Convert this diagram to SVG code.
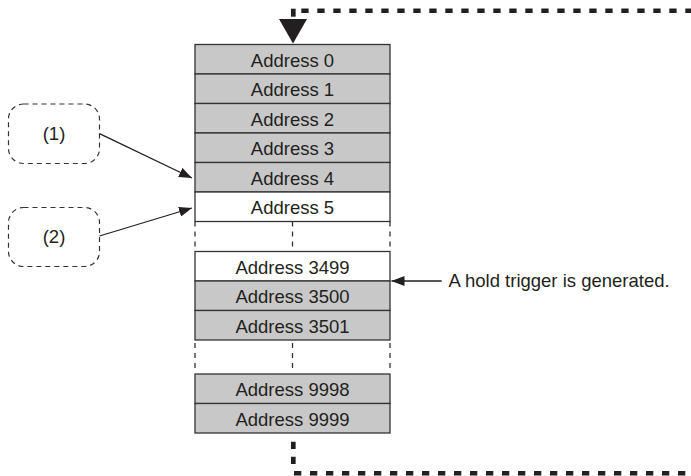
<svg xmlns="http://www.w3.org/2000/svg" width="691" height="476" viewBox="0 0 691 476">
<style>
.cell{stroke:#333;stroke-width:1.3}
.g{fill:#c8c8c8}
.w{fill:#fff}
.t{font-family:"Liberation Sans",Arial,sans-serif;font-size:18.5px;fill:#231f20;text-anchor:middle}
.gap{stroke:#333;stroke-width:1.3;stroke-dasharray:5 5;fill:none}
.conn{stroke:#231f20;stroke-width:1.3;fill:none}
.thick{stroke:#231f20;stroke-width:4.5;fill:none}
.cloud{fill:#fff;stroke:#333;stroke-width:1.2;stroke-dasharray:5 4}
</style>
<defs>
<marker id="ah" markerUnits="userSpaceOnUse" markerWidth="14" markerHeight="10" refX="13" refY="5" orient="auto">
<path d="M0,0 L13,5 L0,10 z" fill="#231f20"/>
</marker>
</defs>
<rect width="691" height="476" fill="#fff"/>

<g id="addr0"><rect class="cell g" x="195" y="44.5" width="195" height="29.5"/><text class="t" x="292.5" y="66.5">Address 0</text></g>
<g id="addr1"><rect class="cell g" x="195" y="74" width="195" height="29.5"/><text class="t" x="292.5" y="96">Address 1</text></g>
<g id="addr2"><rect class="cell g" x="195" y="103.5" width="195" height="29.5"/><text class="t" x="292.5" y="125.5">Address 2</text></g>
<g id="addr3"><rect class="cell g" x="195" y="133" width="195" height="29.5"/><text class="t" x="292.5" y="155">Address 3</text></g>
<g id="addr4"><rect class="cell g" x="195" y="162.5" width="195" height="29.5"/><text class="t" x="292.5" y="184.5">Address 4</text></g>
<g id="addr5"><rect class="cell w" x="195" y="192" width="195" height="29.5"/><text class="t" x="292.5" y="214">Address 5</text></g>

<g id="gap1">
<line class="gap" x1="195" y1="221.5" x2="195" y2="251.5"/>
<line class="gap" x1="292.5" y1="221.5" x2="292.5" y2="251.5"/>
<line class="gap" x1="390" y1="221.5" x2="390" y2="251.5"/>
</g>

<g id="addr3499"><rect class="cell w" x="195" y="251.5" width="195" height="29.5"/><text class="t" x="292.5" y="273.5">Address 3499</text></g>
<g id="addr3500"><rect class="cell g" x="195" y="281" width="195" height="29.5"/><text class="t" x="292.5" y="303">Address 3500</text></g>
<g id="addr3501"><rect class="cell g" x="195" y="310.5" width="195" height="29.5"/><text class="t" x="292.5" y="332.5">Address 3501</text></g>

<g id="gap2">
<line class="gap" x1="195" y1="343" x2="195" y2="369"/>
<line class="gap" x1="292.5" y1="343" x2="292.5" y2="369"/>
<line class="gap" x1="390" y1="343" x2="390" y2="369"/>
</g>

<g id="addr9998"><rect class="cell g" x="195" y="374" width="195" height="29.5"/><text class="t" x="292.5" y="396">Address 9998</text></g>
<g id="addr9999"><rect class="cell g" x="195" y="403.5" width="195" height="29.5"/><text class="t" x="292.5" y="425.5">Address 9999</text></g>

<g id="label1"><rect class="cloud" x="8.5" y="104" width="91" height="59.5" rx="15" ry="15"/><text class="t" x="54" y="140">(1)</text></g>
<g id="label2"><rect class="cloud" x="8.5" y="207.5" width="91" height="59" rx="15" ry="15"/><text class="t" x="54" y="243">(2)</text></g>

<g id="trigger"><text class="t" x="448.5" y="287" style="text-anchor:start">A hold trigger is generated.</text></g>

<g id="connectors">
<line class="conn" x1="99.5" y1="133.7" x2="192" y2="178" marker-end="url(#ah)"/>
<line class="conn" x1="99.5" y1="236" x2="192" y2="208" marker-end="url(#ah)"/>
<line class="conn" x1="441.7" y1="281" x2="391.5" y2="281" marker-end="url(#ah)"/>
<line class="thick" x1="293.3" y1="8.7" x2="293.3" y2="16.7" style="stroke-width:4.7"/>
<line class="thick" x1="301.3" y1="10.8" x2="691" y2="10.8" style="stroke-dasharray:7.3 8.7"/>
<path d="M279,19 L307,19 L293,43.5 z" fill="#231f20"/>
<line class="thick" x1="293.3" y1="441.7" x2="293.3" y2="465" style="stroke-width:4.7;stroke-dasharray:7.3 7.7"/>
<line class="thick" x1="294" y1="473.2" x2="691" y2="473.2" style="stroke-dasharray:7.3 8.7"/>
</g>
</svg>
